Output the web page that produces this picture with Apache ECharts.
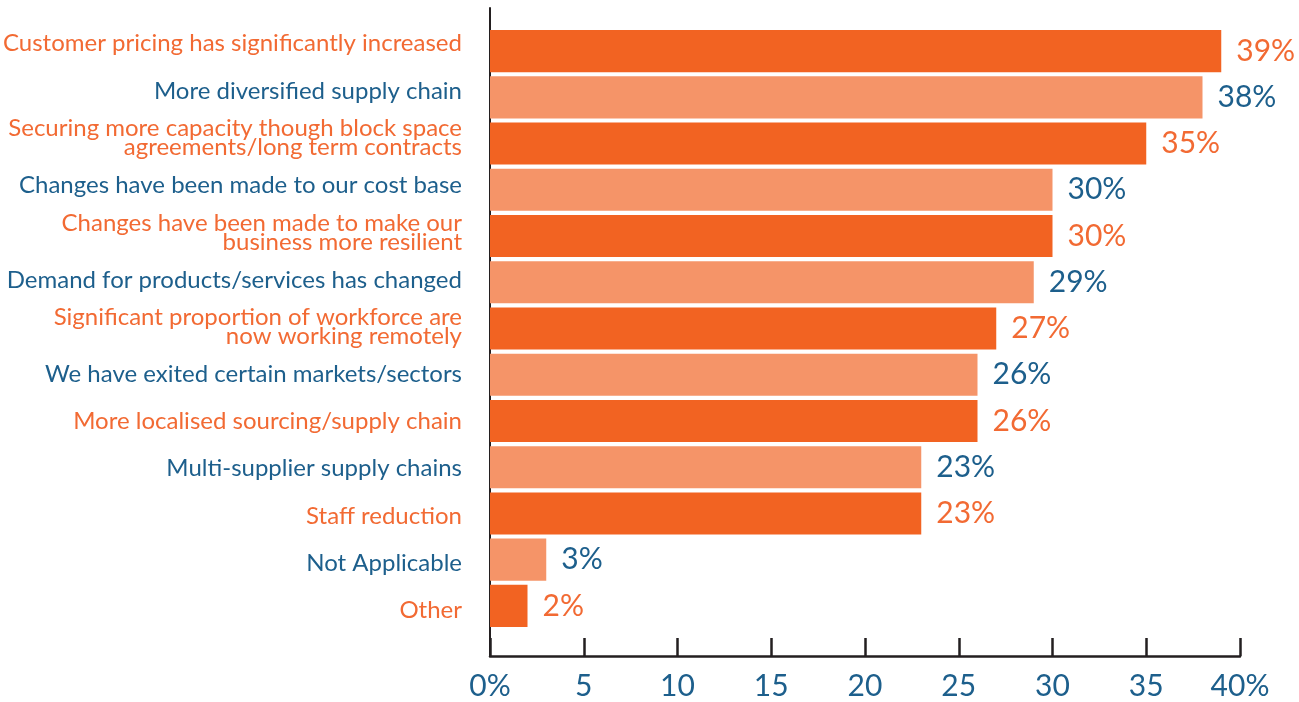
<!DOCTYPE html>
<html>
<head>
<meta charset="utf-8">
<script src="https://cdn.jsdelivr.net/npm/echarts@6/dist/echarts.min.js"></script>
<style>
  html, body { margin: 0; padding: 0; background: #fff; }
  #main { width: 1299px; height: 702px; }
</style>
</head>
<body>
<div id="main"></div>
<script>
// categories, top to bottom
var categories = [
  'Customer pricing has significantly increased',
  'More diversified supply chain',
  'Securing more capacity though block space\nagreements/long term contracts',
  'Changes have been made to our cost base',
  'Changes have been made to make our\nbusiness more resilient',
  'Demand for products/services has changed',
  'Significant proportion of workforce are\nnow working remotely',
  'We have exited certain markets/sectors',
  'More localised sourcing/supply chain',
  'Multi-supplier supply chains',
  'Staff reduction',
  'Not Applicable',
  'Other'
];
// percent of respondents
var values = [39, 38, 35, 30, 30, 29, 27, 26, 26, 23, 23, 3, 2];
// x axis ticks
var xMin = 0, xMax = 40, xStep = 5;

var ORANGE = '#f26322';
var LIGHT = '#f59468';
var TEXT_ORANGE = '#f26a33';
var BLUE = '#1d5f8c';
var AXIS = '#231f20';
var FONT = 'Lato';

var myChart = echarts.init(document.getElementById('main'));

var barData = values.map(function (v, i) {
  return {
    value: v,
    itemStyle: { color: i % 2 ? LIGHT : ORANGE },
    label: { color: i % 2 ? BLUE : TEXT_ORANGE }
  };
});

var option = {
  animation: false,
  grid: [
    // bars
    { left: 490, right: 59, top: 28, bottom: 73 },
    // axis frame (longer axis lines)
    { left: 490, right: 59, top: 8, bottom: 46 },
    // category labels (spaced a bit wider than the bars, like the original)
    { left: 490, right: 59, top: 20, height: 614 }
  ],
  xAxis: [
    { gridIndex: 0, type: 'value', min: xMin, max: xMax, interval: xStep, show: false },
    {
      gridIndex: 1, type: 'value', min: xMin, max: xMax, interval: xStep,
      axisLine: { show: true, lineStyle: { color: AXIS, width: 2.5 } },
      axisTick: { show: true, inside: true, length: 18, lineStyle: { color: AXIS, width: 2.5 } },
      splitLine: { show: false },
      axisLabel: {
        color: BLUE, fontFamily: FONT, fontSize: 30, margin: 15,
        formatter: function (v) { return (v === xMin || v === xMax) ? v + '%' : v; }
      }
    },
    { gridIndex: 2, type: 'value', min: xMin, max: xMax, show: false }
  ],
  yAxis: [
    {
      gridIndex: 0, type: 'category', data: categories, inverse: true,
      axisLine: { show: false }, axisTick: { show: false }, axisLabel: { show: false }
    },
    {
      gridIndex: 1, type: 'value', min: 0, max: 1,
      axisLine: { show: true, lineStyle: { color: AXIS, width: 2 } },
      axisTick: { show: false }, axisLabel: { show: false }, splitLine: { show: false }
    },
    {
      gridIndex: 2, type: 'category', data: categories, inverse: true,
      axisLine: { show: false }, axisTick: { show: false }, splitLine: { show: false },
      axisLabel: {
        margin: 29, fontFamily: FONT, fontSize: 24, lineHeight: 19,
        color: function (val, idx) { return idx % 2 ? BLUE : TEXT_ORANGE; }
      }
    }
  ],
  series: [{
    type: 'bar',
    xAxisIndex: 0, yAxisIndex: 0,
    data: barData,
    barCategoryGap: '9%',
    label: {
      show: true, position: 'right', distance: 15,
      fontFamily: FONT, fontSize: 30,
      formatter: '{c}%'
    }
  }]
};

myChart.setOption(option);
</script>
</body>
</html>
